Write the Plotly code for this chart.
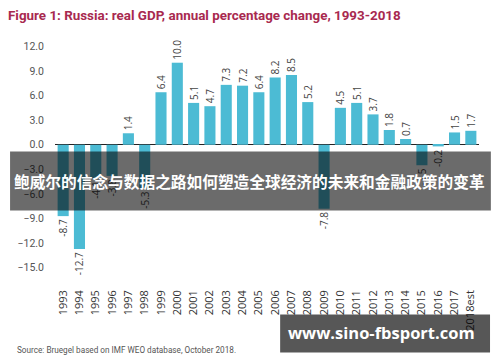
import plotly.graph_objects as go

years = ["1993", "1994", "1995", "1996", "1997", "1998", "1999", "2000", "2001", "2002",
         "2003", "2004", "2005", "2006", "2007", "2008", "2009", "2010", "2011", "2012",
         "2013", "2014", "2015", "2016", "2017", "2018est"]
gdp_growth = [-8.7, -12.7, -4.1, -3.8, 1.4, -5.3, 6.4, 10.0, 5.1, 4.7,
              7.3, 7.2, 6.4, 8.2, 8.5, 5.2, -7.8, 4.5, 5.1, 3.7,
              1.8, 0.7, -2.5, -0.2, 1.5, 1.7]
y_ticks = [12, 9, 6, 3, 0, -3, -6, -9, -12, -15]

title_text = "Figure 1: Russia: real GDP, annual percentage change, 1993-2018"
source_text = "Source: Bruegel based on IMF WEO database, October 2018."
banner_text = "鲍威尔的信念与数据之路如何塑造全球经济的未来和金融政策的变革"
watermark_text = "www.sino-fbsport.com"

NARROW = "Liberation Sans Narrow, Roboto, Arial, sans-serif"

fig = go.Figure()
fig.add_trace(go.Bar(
    x=years, y=gdp_growth,
    marker=dict(color="#4cbbd4", line=dict(width=0)),
    text=[f"{v:.1f}" for v in gdp_growth],
    textposition="outside", textangle=-90, constraintext="none",
    cliponaxis=False,
    textfont=dict(family="Open Sans, sans-serif", size=10, color="#444"),
))

fig.update_layout(
    width=500, height=362,
    margin=dict(l=47, r=29, t=26, b=94, autoexpand=False),
    paper_bgcolor="white", plot_bgcolor="white",
    bargap=0.32, showlegend=False,
    title=dict(text=title_text, x=0.0, y=0.9807, xanchor="left", yanchor="middle",
               font=dict(family=NARROW, size=13.4, color="#a8294f", weight="bold")),
    xaxis=dict(type="category", tickangle=-90, showgrid=False, showline=False,
               ticks="", ticklabelstandoff=11, automargin=False,
               tickfont=dict(family="Open Sans, sans-serif", size=11, color="#333")),
    yaxis=dict(range=[-16, 13.5], tickvals=y_ticks, tickformat=".1f",
               showgrid=False, showline=False, ticks="", ticklabelstandoff=10,
               automargin=False,
               zeroline=True, zerolinecolor="#222", zerolinewidth=1,
               tickfont=dict(family=NARROW, size=10.5, color="#555")),
    shapes=[
        dict(type="rect", xref="paper", yref="paper", x0=-0.106, x1=1.028, y0=0.2705, y1=0.514,
             fillcolor="rgba(0,0,0,0.58)", line=dict(width=0), layer="above"),
        dict(type="rect", xref="paper", yref="paper", x0=0.531, x1=1.026, y0=-0.316, y1=-0.159,
             fillcolor="rgba(0,0,0,0.66)", line=dict(width=0), layer="above"),
    ],
    annotations=[
        dict(text=source_text, xref="paper", yref="paper", x=-0.094, y=-0.304,
             xanchor="left", yanchor="middle", showarrow=False,
             font=dict(family=NARROW, size=8.2, color="#555")),
        dict(text=banner_text, xref="paper", yref="paper", x=0.459, y=0.392,
             xanchor="center", yanchor="middle", showarrow=False,
             font=dict(family="Noto Sans CJK SC, sans-serif", size=15.7, color="white", weight="bold")),
        dict(text=watermark_text, xref="paper", yref="paper", x=0.770, y=-0.235,
             xanchor="center", yanchor="middle", showarrow=False,
             font=dict(family="Open Sans, sans-serif", size=16.5, color="white", weight="bold")),
    ],
)

fig.write_html("out.html")
